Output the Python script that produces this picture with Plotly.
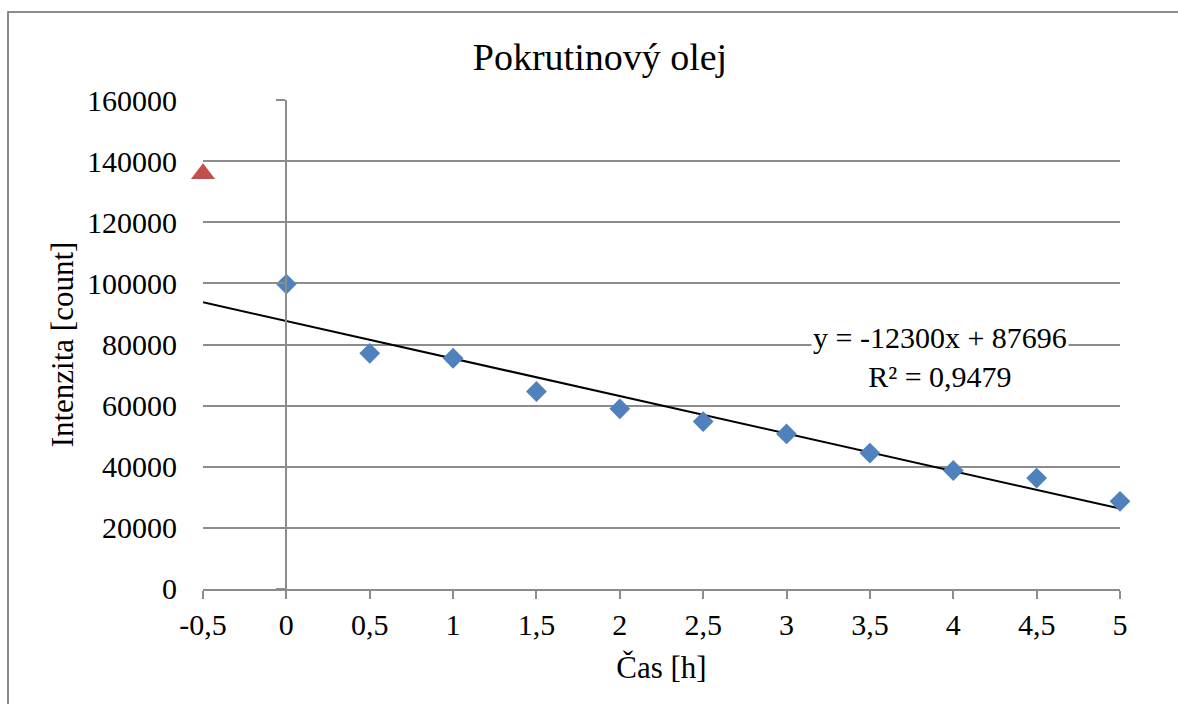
import plotly.graph_objects as go

# Data
time_h = [0, 0.5, 1, 1.5, 2, 2.5, 3, 3.5, 4, 4.5, 5]
intensity = [99800, 77100, 75500, 64600, 58900, 54750, 50700, 44400, 38700, 36200, 28600]
ref_x = [-0.5]
ref_y = [136000]
trend_slope = -12300
trend_intercept = 87696
trend_label = "y = -12300x + 87696<br>R² = 0,9479"
x_ticks = [-0.5, 0, 0.5, 1, 1.5, 2, 2.5, 3, 3.5, 4, 4.5, 5]
x_ticklabels = ["-0,5", "0", "0,5", "1", "1,5", "2", "2,5", "3", "3,5", "4", "4,5", "5"]
y_ticks = [0, 20000, 40000, 60000, 80000, 100000, 120000, 140000, 160000]
y_ticklabels = [str(v) for v in y_ticks]

W, H = 1178, 704
L, R, T, B = 203, 58, 100, 115
pw, ph = W - L - R, H - T - B

FONT = "Liberation Serif"
GRID = "#8c8c8c"

trend_x = [x_ticks[0], x_ticks[-1]]
trend_y = [trend_slope * v + trend_intercept for v in trend_x]

fig = go.Figure()
fig.add_trace(go.Scatter(x=trend_x, y=trend_y, mode="lines", cliponaxis=False,
                         line=dict(color="black", width=2), showlegend=False, hoverinfo="skip"))
fig.add_trace(go.Scatter(x=time_h, y=intensity, mode="markers", cliponaxis=False,
                         marker=dict(symbol="diamond", size=16, color="#4f81bd"), showlegend=False))
fig.add_trace(go.Scatter(x=ref_x, y=ref_y, mode="markers", cliponaxis=False, yaxis="y2",
                         marker=dict(symbol="triangle-up", size=21, color="#c0504d"), showlegend=False))

xr = [x_ticks[0], x_ticks[-1]]
yr = [y_ticks[0] - 150, y_ticks[-1] + 150]
zero_pos = (0 - xr[0]) / (xr[1] - xr[0])

fig.update_layout(
    width=W, height=H,
    margin=dict(l=L, r=R, t=T, b=B),
    paper_bgcolor="white", plot_bgcolor="white",
    font=dict(family=FONT, size=30, color="black"),
    title=dict(text="Pokrutinový olej", x=600 / W, xanchor="center",
               y=1 - 57 / H, yanchor="middle", font=dict(size=38, family=FONT)),
    xaxis=dict(range=xr, tickvals=x_ticks, ticktext=x_ticklabels,
               showgrid=False, zeroline=False,
               showline=True, linecolor=GRID, linewidth=2,
               ticks="outside", ticklen=8, tickwidth=2, tickcolor=GRID,
               tickfont=dict(size=30, family=FONT),
               title=dict(text="Čas [h]", font=dict(size=31, family=FONT), standoff=16)),
    yaxis=dict(range=yr, tickvals=y_ticks, ticktext=y_ticklabels,
               showgrid=True, gridcolor=GRID, gridwidth=2,
               zeroline=False, showline=False, ticks="", ticklabelstandoff=25,
               tickfont=dict(size=30, family=FONT),
               title=dict(text="Intenzita [count]", font=dict(size=31, family=FONT), standoff=4)),
    yaxis2=dict(range=yr, tickvals=y_ticks, overlaying="y", anchor="free", position=zero_pos,
                side="left", showgrid=False, zeroline=False, showticklabels=False,
                showline=True, linecolor=GRID, linewidth=2,
                ticks="outside", ticklen=9, tickwidth=2, tickcolor=GRID),
)

fig.add_annotation(x=3.92, y=75800, xref="x", yref="y", text=trend_label,
                   showarrow=False, xanchor="center", yanchor="middle", align="center",
                   bgcolor="white", font=dict(size=30, family=FONT, color="black"))

# outer chart border
fig.add_shape(type="rect", xref="paper", yref="paper",
              x0=(8 - L) / pw, x1=(W + 20 - L) / pw,
              y0=-(H + 20 - T - ph) / ph, y1=(T + ph - 12) / ph,
              line=dict(color="#8c8c8c", width=2), fillcolor="rgba(0,0,0,0)", layer="below")

fig.write_html("out.html")
